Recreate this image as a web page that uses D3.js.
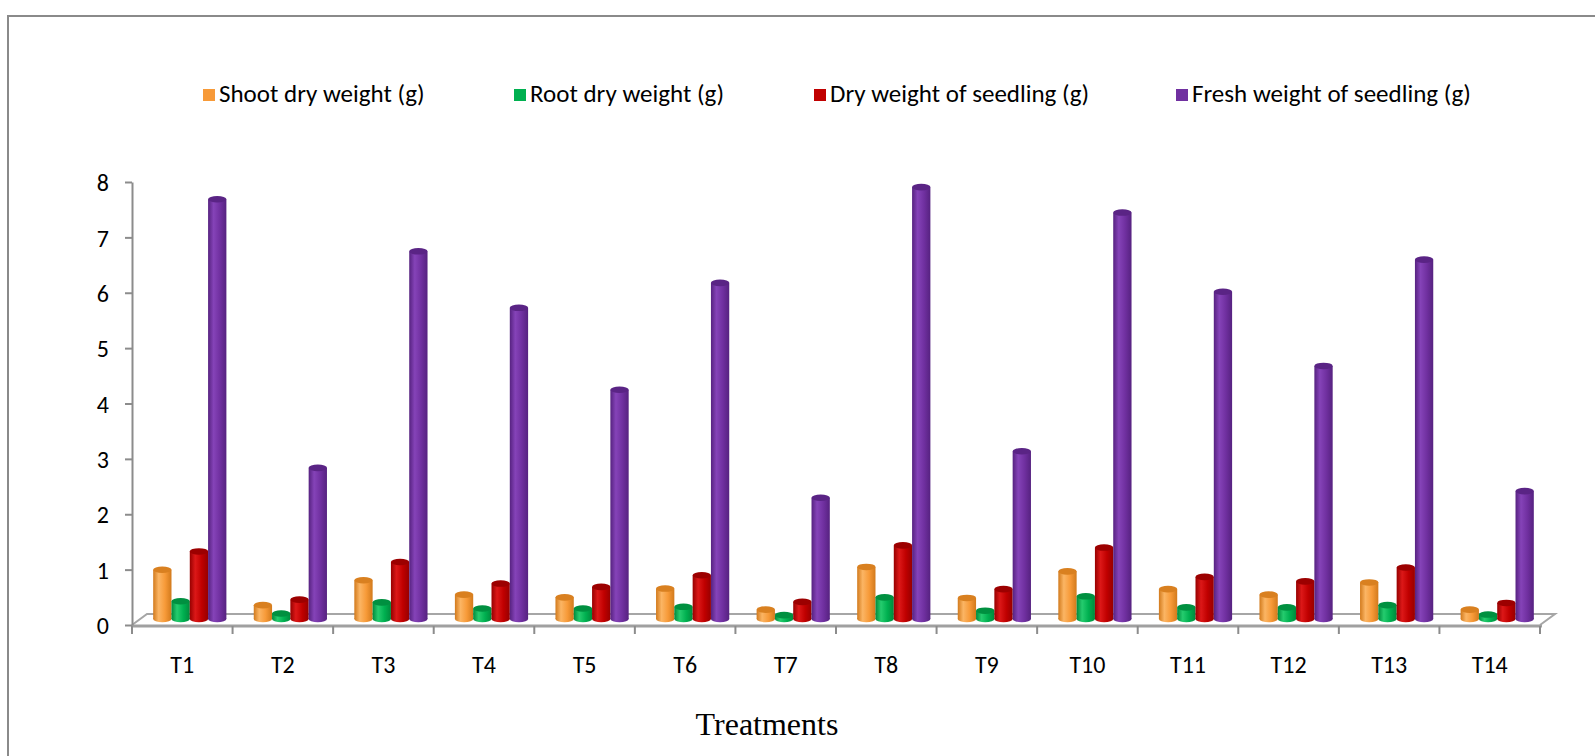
<!DOCTYPE html>
<html>
<head>
<meta charset="utf-8">
<script src="https://cdn.jsdelivr.net/npm/d3@7"></script>
<style>
  body { margin: 0; background: #fff; }
  text { font-family: Carlito, Lato, "Liberation Sans", sans-serif; fill: #000; }
  .axis path, .axis line { stroke: #8c8c8c; stroke-width: 2; }
  .axis text { font-size: 24px; }
  .title { font-family: "Liberation Serif", "Times New Roman", serif; font-size: 32px; }
  .legend text { font-size: 25px; }
</style>
</head>
<body>
<svg width="1595" height="756"></svg>
<script>
// **** data ****
var treatments = ['T1','T2','T3','T4','T5','T6','T7','T8','T9','T10','T11','T12','T13','T14'];
var seriesNames = ['Shoot dry weight (g)', 'Root dry weight (g)', 'Dry weight of seedling (g)', 'Fresh weight of seedling (g)'];
var shootDry = [0.89, 0.25, 0.70, 0.44, 0.39, 0.55, 0.17, 0.94, 0.38, 0.86, 0.54, 0.44, 0.66, 0.17];
var rootDry  = [0.32, 0.10, 0.30, 0.19, 0.19, 0.22, 0.07, 0.39, 0.15, 0.41, 0.21, 0.21, 0.25, 0.08];
var seedlingDry = [1.22, 0.35, 1.03, 0.64, 0.58, 0.79, 0.31, 1.33, 0.54, 1.29, 0.76, 0.68, 0.93, 0.29];
var seedlingFresh = [7.58, 2.73, 6.64, 5.62, 4.14, 6.07, 2.19, 7.80, 3.03, 7.34, 5.91, 4.57, 6.49, 2.31];
var yTicks = [0, 1, 2, 3, 4, 5, 6, 7, 8];

var seriesValues = [shootDry, rootDry, seedlingDry, seedlingFresh];
// base, light, dark, top face
var palette = [
  ['#f79a38', '#fbb564', '#d27a1c', '#d98020'],
  ['#00b050', '#25cc6e', '#008a3c', '#009040'],
  ['#c00000', '#dc1818', '#970000', '#9c0000'],
  ['#7030a0', '#8543b8', '#562280', '#5a2485']
];

var svg = d3.select('svg');

// outer frame
svg.append('rect')
    .attr('x', 8).attr('y', 16)
    .attr('width', 1620).attr('height', 800)
    .attr('fill', 'none')
    .attr('stroke', '#8a8a8a')
    .attr('stroke-width', 2);

// **** scales ****
var x0 = 132, x1 = 1540;
var depthX = 15, depthY = -11;   // 3d depth of the floor

var xScale = d3.scaleBand().domain(treatments).range([x0, x1]);
var yScale = d3.scaleLinear().domain([0, 8]).range([625, 182]);
// bars stand halfway back on the floor
var yBar = d3.scaleLinear().domain([0, 8]).range([625 + depthY / 2 - 0.5, 182 + depthY / 2 - 0.5]);

var bw = xScale.bandwidth();
var groupW = 73.2;
var subScale = d3.scaleBand().domain(d3.range(4))
    .range([bw / 2 - groupW / 2, bw / 2 + groupW / 2]);

// gradients for cylinders
var defs = svg.append('defs');
palette.forEach(function(p, i) {
    var g = defs.append('linearGradient').attr('id', 'cyl' + i)
        .attr('x1', '0%').attr('x2', '100%').attr('y1', '0%').attr('y2', '0%');
    g.append('stop').attr('offset', '0%').attr('stop-color', p[2]);
    g.append('stop').attr('offset', '30%').attr('stop-color', p[1]);
    g.append('stop').attr('offset', '65%').attr('stop-color', p[0]);
    g.append('stop').attr('offset', '100%').attr('stop-color', p[2]);
});

// **** floor ****
var floor = svg.append('g');
floor.append('path')
    .attr('d', 'M' + x0 + ',625 L' + (x0 + depthX) + ',' + (625 + depthY) +
               ' L' + (x1 + depthX) + ',' + (625 + depthY) + ' L' + x1 + ',625')
    .attr('fill', '#fff')
    .attr('stroke', '#a6a6a6')
    .attr('stroke-width', 2);
floor.append('line')
    .attr('x1', x0).attr('x2', x1 + 2).attr('y1', 626).attr('y2', 626)
    .attr('stroke', '#a0a0a0').attr('stroke-width', 3);

// x ticks at category edges
floor.selectAll('.xtick')
    .data(treatments.concat(['end']))
    .enter().append('line')
    .attr('x1', function(d, i) { return x0 + i * bw; })
    .attr('x2', function(d, i) { return x0 + i * bw; })
    .attr('y1', 626).attr('y2', 634)
    .attr('stroke', '#8c8c8c').attr('stroke-width', 2);

// x labels
svg.append('g').selectAll('text')
    .data(treatments)
    .enter().append('text')
    .attr('x', function(d) { return xScale(d) + bw / 2; })
    .attr('y', 673)
    .attr('text-anchor', 'middle')
    .style('font-size', '24px')
    .text(function(d) { return d; });

// y axis
svg.append('g').attr('class', 'axis')
    .attr('transform', 'translate(' + x0 + ',0)')
    .call(d3.axisLeft(yScale).tickValues(yTicks).tickSize(7).tickSizeOuter(0).tickPadding(16))
    .selectAll('text').attr('dy', '0.36em');

// **** cylinders ****
var rx = subScale.bandwidth() / 2, ry = 3.3;
var bars = svg.append('g');
treatments.forEach(function(t, ti) {
    seriesValues.forEach(function(vals, si) {
        var cx = xScale(t) + subScale(si) + rx + depthX / 2;
        var yb = yBar(0), yt = yBar(vals[ti]);
        var g = bars.append('g');
        g.append('ellipse')
            .attr('cx', cx).attr('cy', yb).attr('rx', rx).attr('ry', ry)
            .attr('fill', 'url(#cyl' + si + ')');
        g.append('rect')
            .attr('x', cx - rx).attr('y', yt)
            .attr('width', rx * 2).attr('height', yb - yt)
            .attr('fill', 'url(#cyl' + si + ')');
        g.append('ellipse')
            .attr('cx', cx).attr('cy', yt).attr('rx', rx).attr('ry', ry)
            .attr('fill', palette[si][3]);
    });
});

// **** legend ****
var legendX = [203, 514, 814, 1176];
var legend = svg.append('g').attr('class', 'legend');
seriesNames.forEach(function(name, i) {
    legend.append('rect')
        .attr('x', legendX[i]).attr('y', 89)
        .attr('width', 12).attr('height', 12)
        .attr('fill', palette[i][0]);
    legend.append('text')
        .attr('x', legendX[i] + 16).attr('y', 102)
        .text(name);
});

// axis title
svg.append('text')
    .attr('class', 'title')
    .attr('x', 767).attr('y', 735)
    .attr('text-anchor', 'middle')
    .text('Treatments');
</script>
</body>
</html>
